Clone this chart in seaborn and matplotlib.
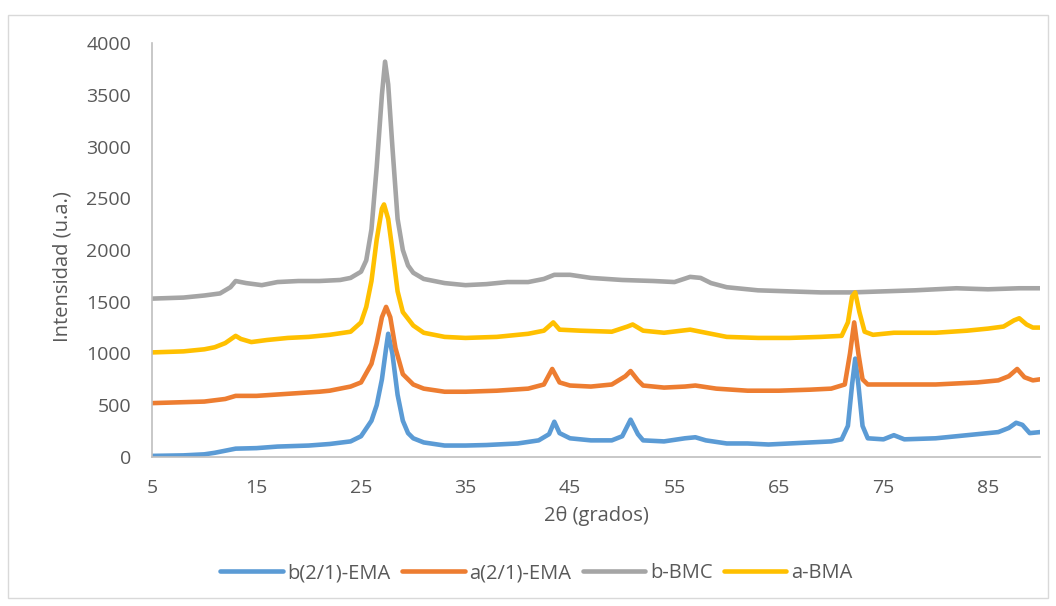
import matplotlib
matplotlib.use("Agg")
import matplotlib.pyplot as plt
import seaborn as sns
import pandas as pd
from matplotlib.patches import Rectangle

# ---- data ----
series_names = ["b(2/1)-EMA", "a(2/1)-EMA", "b-BMC", "a-BMA"]

b21_x = [5, 8, 10, 11, 12, 13, 15, 17, 20, 22, 24, 25, 26, 26.5, 27, 27.4, 27.6, 28, 28.5, 29, 29.5, 30, 31, 33,
         35, 37, 40, 42, 43, 43.5, 44, 45, 47, 49, 50, 50.8, 51.5, 52, 54, 56, 57, 58, 60, 62, 64, 66, 68, 70, 71,
         71.6, 72, 72.3, 72.6, 73, 73.5, 75, 76, 77, 80, 83, 85, 86, 87, 87.7, 88.3, 89, 90]
b21_y = [10, 15, 25, 40, 60, 80, 85, 100, 110, 125, 150, 200, 350, 500, 750, 1050, 1190, 1000, 600, 350, 230, 180,
         140, 110, 110, 115, 130, 160, 220, 340, 230, 180, 160, 160, 200, 360, 220, 160, 150, 180, 190, 160, 130,
         130, 120, 130, 140, 150, 170, 300, 700, 950, 700, 300, 180, 170, 210, 170, 180, 210, 230, 240, 280, 330,
         310, 230, 240]

a21_x = [5, 10, 12, 13, 15, 18, 21, 22, 24, 25, 26, 26.5, 27, 27.4, 27.8, 28.3, 29, 30, 31, 33, 35, 38, 41, 42.5,
         43.3, 44, 45, 47, 49, 50.3, 50.8, 51.5, 52, 54, 56, 57, 59, 62, 65, 68, 70, 71.3, 71.8, 72.2, 72.6, 73,
         73.5, 76, 80, 84, 86, 87, 87.8, 88.5, 89.3, 90]
a21_y = [520, 535, 560, 590, 590, 610, 630, 640, 680, 720, 900, 1100, 1350, 1450, 1350, 1050, 800, 700, 660, 630,
         630, 640, 660, 700, 850, 720, 690, 680, 700, 780, 830, 740, 690, 670, 680, 690, 660, 640, 640, 650, 660,
         700, 1000, 1300, 1000, 750, 700, 700, 700, 720, 740, 780, 850, 770, 740, 750]

bbmc_x = [5, 8, 10, 11.5, 12.5, 13, 14, 15.5, 17, 19, 21, 23, 24, 25, 25.5, 26, 26.5, 27, 27.3, 27.6, 28, 28.5, 29,
          29.5, 30, 31, 33, 35, 37, 39, 41, 42.5, 43.5, 45, 47, 50, 53, 55, 56.5, 57.5, 58.5, 60, 63, 66, 69, 72,
          75, 78, 82, 85, 88, 90]
bbmc_y = [1530, 1540, 1560, 1580, 1640, 1700, 1680, 1660, 1690, 1700, 1700, 1710, 1730, 1790, 1900, 2200, 2800,
          3500, 3820, 3600, 3000, 2300, 2000, 1850, 1780, 1720, 1680, 1660, 1670, 1690, 1690, 1720, 1760, 1760,
          1730, 1710, 1700, 1690, 1740, 1730, 1680, 1640, 1610, 1600, 1590, 1590, 1600, 1610, 1630, 1620, 1630,
          1630]

abma_x = [5, 8, 10, 11, 12, 13, 13.5, 14.5, 16, 18, 20, 22, 24, 25, 25.5, 26, 26.5, 27, 27.2, 27.6, 28, 28.5, 29,
          30, 31, 33, 35, 38, 41, 42.5, 43.4, 44, 46, 49, 50.5, 51, 52, 54, 56.5, 58, 60, 63, 66, 69, 71, 71.6, 72,
          72.3, 72.7, 73.2, 74, 76, 80, 83, 85, 86.5, 87.5, 88, 88.7, 89.3, 90]
abma_y = [1010, 1020, 1040, 1060, 1100, 1170, 1140, 1110, 1130, 1150, 1160, 1180, 1210, 1300, 1450, 1700, 2100,
          2400, 2440, 2300, 2000, 1600, 1400, 1270, 1200, 1160, 1150, 1160, 1190, 1220, 1300, 1230, 1220, 1210,
          1260, 1280, 1220, 1200, 1230, 1200, 1160, 1150, 1150, 1160, 1170, 1300, 1550, 1590, 1400, 1210, 1180,
          1200, 1200, 1220, 1240, 1260, 1320, 1340, 1280, 1250, 1250]

x_ticks = [5, 15, 25, 35, 45, 55, 65, 75, 85]
y_ticks = [0, 500, 1000, 1500, 2000, 2500, 3000, 3500, 4000]
colors = ["#5B9BD5", "#ED7D31", "#A5A5A5", "#FFC000"]

frames = []
for name, xs, ys in zip(series_names,
                        [b21_x, a21_x, bbmc_x, abma_x],
                        [b21_y, a21_y, bbmc_y, abma_y]):
    frames.append(pd.DataFrame({"x": xs, "y": ys, "serie": name}))
df = pd.concat(frames, ignore_index=True)

sns.set_theme(style="white")
plt.rcParams["font.family"] = ["Open Sans", "DejaVu Sans"]

fig = plt.figure(figsize=(10.56, 6.06), dpi=100)
ax = fig.add_axes([0.144, 0.246, 0.841, 0.683])

sns.lineplot(data=df, x="x", y="y", hue="serie", hue_order=series_names,
             palette=colors, estimator=None, sort=False, linewidth=3.3, ax=ax, legend=True)

ax.set_xlim(5, 90)
ax.set_ylim(0, 4000)
ax.set_xticks(x_ticks)
ax.set_xticklabels([str(t) for t in x_ticks])
ax.set_yticks(y_ticks)
ax.set_yticklabels([str(t) for t in y_ticks])
ax.tick_params(axis="both", length=0, labelsize=14, colors="#595959")
ax.tick_params(axis="y", pad=15)
ax.tick_params(axis="x", pad=16)

for s in ["top", "right"]:
    ax.spines[s].set_visible(False)
for s in ["left", "bottom"]:
    ax.spines[s].set_color("#BFBFBF")
    ax.spines[s].set_linewidth(1.2)

ax.set_xlabel("2θ (grados)", fontsize=14.5, color="#595959")
ax.set_ylabel("Intensidad (u.a.)", fontsize=14.5, color="#595959")
ax.xaxis.set_label_coords(0.5, -0.118)
ax.yaxis.set_label_coords(-0.09, 0.46)

handles, labels = ax.get_legend_handles_labels()
ax.get_legend().remove()
fig.legend(handles, labels, loc="center", bbox_to_anchor=(0.508, 0.054), ncol=4, frameon=False,
           fontsize=14.5, handlelength=3.1, handletextpad=0.25, columnspacing=0.55, labelcolor="#595959")

fig.patches.append(Rectangle((8 / 1056, 1 - 598 / 606), 1040 / 1056, 583 / 606, transform=fig.transFigure,
                             fill=False, edgecolor="#D9D9D9", linewidth=1.0))

fig.savefig("out.png", dpi=100, facecolor="white")
